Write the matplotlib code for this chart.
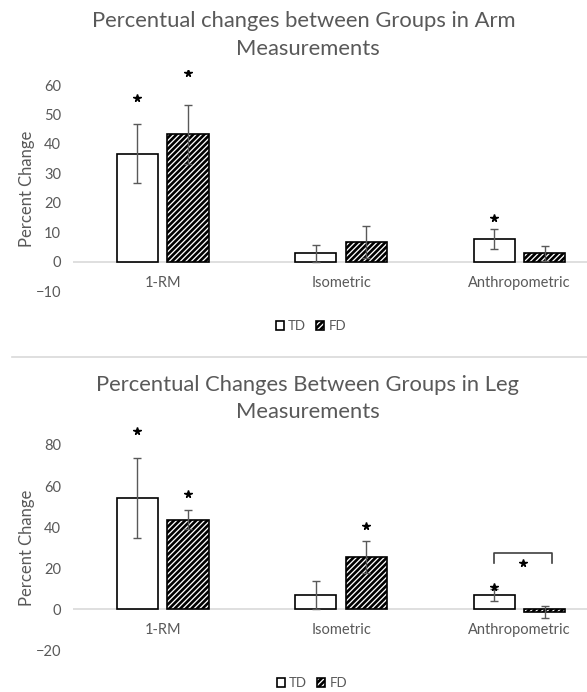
import numpy as np
import matplotlib
matplotlib.use("Agg")
import matplotlib.pyplot as plt
from matplotlib.lines import Line2D
from matplotlib.patches import Patch

plt.rcParams["font.family"] = ["Lato", "DejaVu Sans"]
plt.rcParams["hatch.linewidth"] = 1.9

# Kategorien und Gruppen
categories = ["1-RM", "Isometric", "Anthropometric"]
groups = ["TD", "FD"]

# Arm-Messungen: prozentuale Veränderung und Standardabweichung
arm_td = [36.6, 2.8, 7.7]
arm_td_err = [10.0, 3.0, 3.3]
arm_fd = [43.3, 6.8, 2.8]
arm_fd_err = [10.0, 5.4, 2.6]
arm_td_star = [55.5, None, 15.0]
arm_fd_star = [64.0, None, None]

# Bein-Messungen
leg_td = [54.3, 7.0, 7.0]
leg_td_err = [19.5, 6.8, 2.8]
leg_fd = [43.5, 25.6, -1.3]
leg_fd_err = [4.6, 7.7, 3.0]
leg_td_star = [86.8, None, 11.0]
leg_fd_star = [56.0, 40.5, None]
# Klammer TD vs. FD bei Anthropometric
leg_bracket = (27.3, 22.4, 22.7)

TEXT = "#595959"
W, H = 587, 692
fig = plt.figure(figsize=(W / 100, H / 100), dpi=100)


def px_axes(x0, y_top, x1, y_bot):
    return fig.add_axes([x0 / W, 1 - y_bot / H, (x1 - x0) / W, (y_bot - y_top) / H])


def draw_panel(ax, td, td_err, fd, fd_err, td_star, fd_star, ylim, yticks):
    x = np.arange(len(categories))
    off, bw = 0.1415, 0.23
    ax.axhline(0, color="#d9d9d9", linewidth=1.2, zorder=1)
    ax.bar(x - off, td, bw, color="white", edgecolor="black", linewidth=1.2, zorder=2, label=groups[0])
    ax.bar(x + off, fd, bw, color="white", edgecolor="black", hatch="//////", linewidth=1.2, zorder=2,
           label=groups[1])
    ax.errorbar(x - off, td, yerr=td_err, fmt="none", ecolor=TEXT, elinewidth=1, capsize=3, capthick=1, zorder=3)
    ax.errorbar(x + off, fd, yerr=fd_err, fmt="none", ecolor=TEXT, elinewidth=1, capsize=3, capthick=1, zorder=3)
    for i, s in enumerate(td_star):
        if s is not None:
            ax.plot(x[i] - off, s, marker="*", color="black", markersize=5.5, zorder=4)
    for i, s in enumerate(fd_star):
        if s is not None:
            ax.plot(x[i] + off, s, marker="*", color="black", markersize=5.5, zorder=4)
    ax.set_xlim(-0.5, 2.377)
    ax.set_ylim(*ylim)
    ax.set_yticks(yticks)
    ax.set_xticks([])
    for i, c in enumerate(categories):
        ax.annotate(c, xy=(x[i], 0), xytext=(0, -21), textcoords="offset pixels",
                    ha="center", va="center", fontsize=10.5, color=TEXT)
    ax.tick_params(axis="y", length=0, labelsize=10.5, labelcolor=TEXT, pad=9)
    for sp in ax.spines.values():
        sp.set_visible(False)
    ax.patch.set_alpha(0)


# Oberes Diagramm: Arm
ax1 = px_axes(73.5, 70.3, 587, 291.2)
draw_panel(ax1, arm_td, arm_td_err, arm_fd, arm_fd_err, arm_td_star, arm_fd_star,
           (-10, 65), np.arange(-10, 61, 10))
fig.text(303.5 / W, 1 - 21 / H, "Percentual changes between Groups in Arm", ha="center", va="center",
         fontsize=15.8, color=TEXT)
fig.text(307.5 / W, 1 - 49 / H, "Measurements", ha="center", va="center", fontsize=15.8, color=TEXT)
fig.text(27 / W, 1 - 189 / H, "Percent Change", rotation=90, ha="center", va="center", fontsize=12,
         color=TEXT)

# Unteres Diagramm: Bein
ax2 = px_axes(73.5, 424.4, 587, 650.4)
draw_panel(ax2, leg_td, leg_td_err, leg_fd, leg_fd_err, leg_td_star, leg_fd_star,
           (-20, 90), np.arange(-20, 81, 20))
top, leg_end, star_y = leg_bracket
bx0, bx1 = 2 - 0.1415, 2 + 0.18
ax2.plot([bx0, bx0, bx1, bx1], [leg_end, top, top, leg_end], color="#404040", linewidth=1.2, zorder=4)
ax2.plot((bx0 + bx1) / 2, star_y, marker="*", color="black", markersize=5.5, zorder=4)
fig.text(307 / W, 1 - 385 / H, "Percentual Changes Between Groups in Leg", ha="center", va="center",
         fontsize=15.8, color=TEXT)
fig.text(307.5 / W, 1 - 412 / H, "Measurements", ha="center", va="center", fontsize=15.8, color=TEXT)
fig.text(27 / W, 1 - 548 / H, "Percent Change", rotation=90, ha="center", va="center", fontsize=12,
         color=TEXT)

# Legenden
handles = [Patch(facecolor="white", edgecolor="black", linewidth=1.2, label="TD"),
           Patch(facecolor="white", edgecolor="black", hatch="//////", linewidth=1.2, label="FD")]
for cx, cy in [(311, 326), (312, 683)]:
    fig.legend(handles=handles, loc="center", bbox_to_anchor=(cx / W, 1 - cy / H), ncol=2, frameon=False,
               fontsize=9.5, labelcolor=TEXT, handlelength=0.6, handleheight=0.6, handletextpad=0.3,
               columnspacing=0.8)

# Trennlinie zwischen den Diagrammen
fig.add_artist(Line2D([12 / W, 1], [1 - 357 / H, 1 - 357 / H], color="#d9d9d9", linewidth=1.2))

fig.savefig("out.png", dpi=100, facecolor="white")
